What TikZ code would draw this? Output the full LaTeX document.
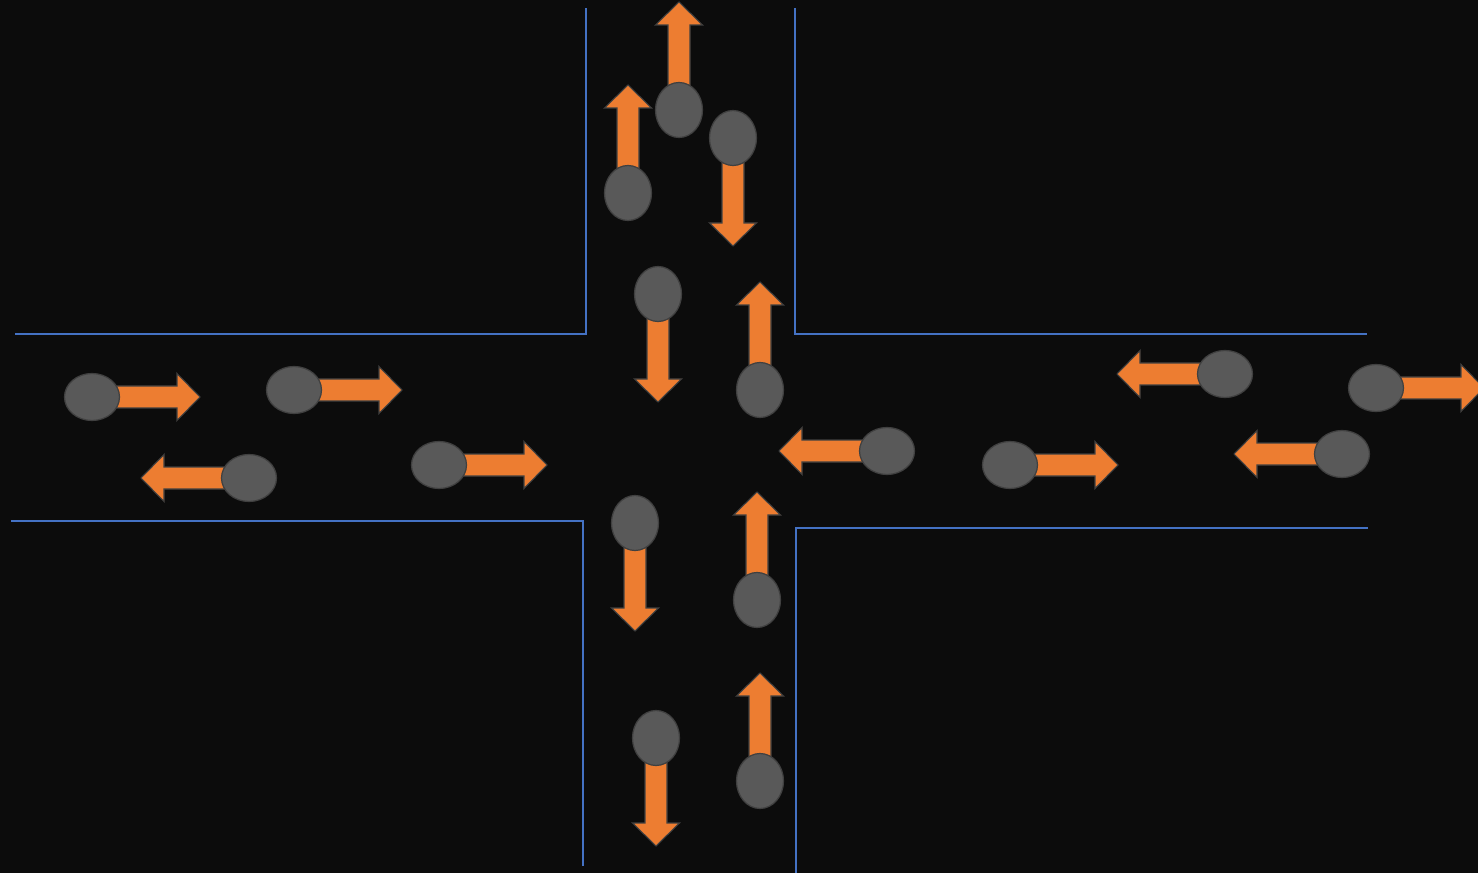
\documentclass[tikz,border=0pt]{standalone}
\usepackage{xcolor}

\definecolor{bgblack}{HTML}{0C0C0C}
\definecolor{roadblue}{HTML}{4472C4}
\definecolor{carorange}{HTML}{ED7D31}
\definecolor{cargrey}{HTML}{595959}
\definecolor{caredge}{HTML}{404040}

\tikzset{
  roadedge/.style={roadblue, line width=0.75pt},
  carbody/.style={fill=cargrey, draw=caredge, line width=0.35pt},
  cararrow/.style={fill=carorange, draw=caredge, line width=0.3pt, line join=miter},
  car/.pic={
    \draw[cararrow] (0,-11) -- (85,-11) -- (85,-23.5) -- (108,0) -- (85,23.5) -- (85,11) -- (0,11) -- cycle;
    \draw[carbody] (0,0) ellipse [x radius=27.5, y radius=23.5];
  }
}

\begin{document}
\begin{tikzpicture}[x=0.01cm, y=-0.01cm]
    \useasboundingbox (0,0) rectangle (1478,873);
    \clip (0,0) rectangle (1478,873);
    \fill[bgblack] (0,0) rectangle (1478,873);

    \draw[roadedge] (15,334) -- (586,334) -- (586,8);
    \draw[roadedge] (795,8) -- (795,334) -- (1367,334);
    \draw[roadedge] (11,521) -- (583,521) -- (583,866);
    \draw[roadedge] (1368,528) -- (796,528) -- (796,873);

    % west road
    \pic at (92,397) {car};
    \pic at (294,390) {car};
    \pic[rotate=180] at (249,478) {car};
    \pic at (439,465) {car};

    % east road
    \pic[rotate=180] at (887,451) {car};
    \pic at (1010,465) {car};
    \pic[rotate=180] at (1225,374) {car};
    \pic at (1376,388) {car};
    \pic[rotate=180] at (1342,454) {car};

    % north road
    \pic[rotate=90] at (679,110) {car};
    \pic[rotate=90] at (628,193) {car};
    \pic[rotate=-90] at (733,138) {car};
    \pic[rotate=-90] at (658,294) {car};
    \pic[rotate=90] at (760,390) {car};

    % south road
    \pic[rotate=-90] at (635,523) {car};
    \pic[rotate=90] at (757,600) {car};
    \pic[rotate=-90] at (656,738) {car};
    \pic[rotate=90] at (760,781) {car};
  \end{tikzpicture}
\end{document}
